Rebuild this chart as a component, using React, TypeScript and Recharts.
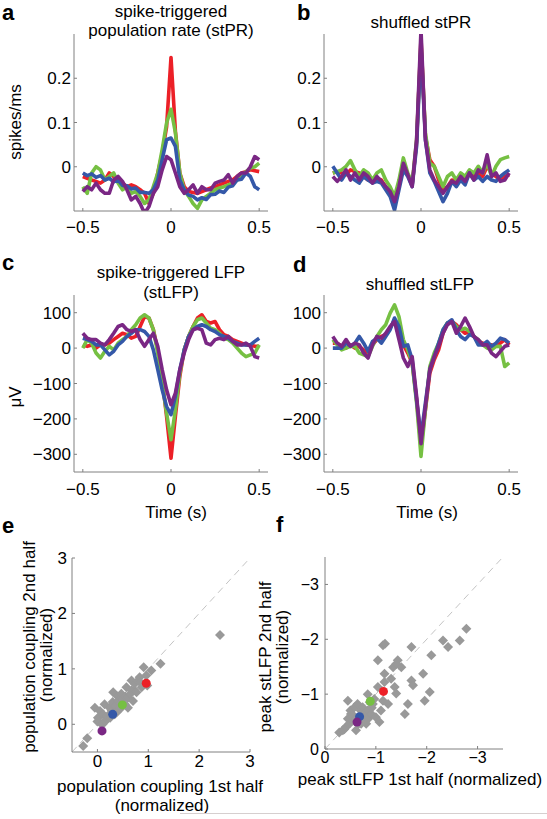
import React from 'react';
import {
  LineChart,
  Line,
  XAxis,
  YAxis,
  ScatterChart,
  Scatter,
  ReferenceLine,
} from 'recharts';

/* ------------------------------------------------------------------ */
/*  Data                                                               */
/* ------------------------------------------------------------------ */
const TIME = [
  -0.5, -0.475, -0.45, -0.425, -0.4, -0.375, -0.35, -0.325, -0.3, -0.275, -0.25,
  -0.225, -0.2, -0.175, -0.15, -0.125, -0.1, -0.075, -0.05, -0.025, 0, 0.025,
  0.05, 0.075, 0.1, 0.125, 0.15, 0.175, 0.2, 0.225, 0.25, 0.275, 0.3, 0.325,
  0.35, 0.375, 0.4, 0.425, 0.45, 0.475, 0.5,
];

/* a: spike-triggered population rate (spikes/ms) */
const A_RED = [-0.022, -0.026, -0.03, -0.033, -0.037, -0.03, -0.014, -0.022, -0.03, -0.037, -0.045, -0.041, -0.045, -0.052, -0.06, -0.083, -0.06, -0.014, 0.03, 0.09, 0.247, 0.08, -0.014, -0.045, -0.056, -0.058, -0.06, -0.056, -0.052, -0.048, -0.045, -0.041, -0.037, -0.033, -0.03, -0.022, -0.014, -0.011, -0.007, -0.009, -0.011];
const A_GREEN = [-0.045, -0.06, -0.014, 0, -0.007, -0.03, -0.022, -0.014, -0.037, -0.052, -0.045, -0.06, -0.056, -0.067, -0.083, -0.075, -0.045, -0.014, 0.039, 0.099, 0.13, 0.077, -0.014, -0.052, -0.067, -0.083, -0.094, -0.075, -0.067, -0.06, -0.052, -0.048, -0.045, -0.041, -0.037, -0.03, -0.022, -0.011, -0.003, 0, 0.008];
const A_BLUE = [-0.014, -0.02, -0.016, -0.024, -0.02, -0.03, -0.026, -0.034, -0.03, -0.042, -0.043, -0.05, -0.048, -0.058, -0.058, -0.06, -0.052, -0.03, 0.016, 0.061, 0.065, 0.046, -0.03, -0.052, -0.064, -0.067, -0.075, -0.07, -0.074, -0.063, -0.062, -0.055, -0.058, -0.046, -0.043, -0.03, -0.028, -0.014, -0.022, -0.045, -0.052];
const A_PURPLE = [-0.056, -0.045, -0.052, -0.037, -0.052, -0.06, -0.06, -0.03, -0.022, -0.033, -0.052, -0.075, -0.067, -0.083, -0.105, -0.09, -0.06, -0.045, -0.007, 0.023, 0.016, -0.014, -0.045, -0.06, -0.052, -0.041, -0.06, -0.045, -0.052, -0.052, -0.037, -0.033, -0.03, -0.018, -0.037, -0.022, -0.014, -0.014, 0, 0.023, 0.016];

/* b: shuffled stPR */
const B_RED = [-0.014, -0.011, -0.014, -0.018, -0.007, -0.011, -0.014, -0.022, -0.03, -0.033, -0.026, -0.03, -0.045, -0.06, -0.075, -0.045, 0.001, -0.018, -0.041, 0.054, 0.29, 0.069, 0.016, 0.001, -0.03, -0.052, -0.045, -0.03, -0.033, -0.026, -0.03, -0.014, -0.022, -0.014, -0.022, 0.001, -0.014, -0.022, -0.03, -0.022, -0.018];
const B_GREEN = [-0.014, -0.011, -0.007, 0.001, 0.014, -0.007, -0.022, -0.007, -0.014, -0.03, -0.014, -0.007, -0.03, -0.045, -0.067, -0.03, 0.02, -0.014, -0.037, 0.061, 0.28, 0.077, 0.008, 0.001, -0.022, -0.045, -0.022, -0.014, -0.03, -0.014, -0.022, -0.007, -0.014, 0.001, -0.014, 0.008, -0.022, 0.001, 0.016, 0.02, 0.023];
const B_BLUE = [0.001, -0.014, -0.03, -0.014, -0.022, -0.03, -0.037, -0.022, -0.03, -0.037, -0.033, -0.037, -0.052, -0.067, -0.098, -0.052, -0.007, -0.022, -0.045, 0.046, 0.27, 0.061, -0.014, -0.033, -0.056, -0.079, -0.06, -0.033, -0.045, -0.03, -0.041, -0.014, -0.03, -0.022, -0.033, -0.022, -0.03, -0.033, -0.022, -0.014, -0.007];
const B_PURPLE = [-0.022, -0.033, -0.022, -0.007, -0.03, -0.014, -0.03, -0.014, -0.022, -0.037, -0.022, -0.033, -0.045, -0.056, -0.079, -0.045, 0.008, -0.018, -0.045, 0.061, 0.31, 0.061, -0.007, -0.03, -0.045, -0.06, -0.045, -0.033, -0.037, -0.022, -0.033, -0.014, -0.03, -0.007, -0.014, 0.027, -0.022, -0.014, -0.033, -0.03, -0.014];

/* c: spike-triggered LFP (uV) */
const C_RED = [9, 5, 9, 0, 9, 9, 14, 24, 33, 42, 38, 28, 33, 61, 89, 85, 52, -5, -89, -193, -311, -193, -80, -5, 33, 61, 85, 94, 75, 71, 75, 52, 38, 33, 24, 19, 14, 9, 9, 5, 5];
const C_GREEN = [0, 24, 14, -14, -28, -9, 5, -5, 14, 24, 33, 52, 66, 85, 94, 85, 52, -14, -99, -184, -259, -174, -71, -5, 33, 61, 80, 85, 71, 56, 52, 42, 28, 24, 14, 0, -14, -24, -19, -14, 9];
const C_BLUE = [28, 24, 19, 9, 9, -5, -19, -9, 9, 19, 33, 42, 52, 52, 47, 33, -5, -61, -118, -165, -188, -136, -61, -5, 33, 52, 61, 66, 61, 52, 47, 38, 33, 28, 19, 14, 9, 9, 9, 19, 28];
const C_PURPLE = [42, 28, 24, 24, 14, 9, 24, 42, 61, 66, 52, 47, 52, 24, 5, 24, 42, 5, -61, -118, -160, -127, -61, -14, 24, 52, 56, 52, 14, 9, 24, 28, 24, 33, 19, 9, 9, 14, 5, -24, -28];

/* d: shuffled stLFP */
const D_RED = [14, 14, 5, 0, 9, 0, 5, -5, -14, 9, 24, 33, 38, 56, 80, 52, 9, -14, -42, -146, -278, -174, -71, -33, -5, 42, 71, 75, 66, 52, 42, 47, 33, 19, 14, 9, 9, 5, 14, 24, 9];
const D_GREEN = [24, 9, -5, 0, 5, 5, -14, -19, -24, 5, 33, 52, 66, 99, 122, 89, 24, -5, -42, -155, -306, -174, -52, -14, 14, 52, 71, 75, 61, 52, 56, 47, 33, 24, 9, 0, -5, 5, 5, -52, -42];
const D_BLUE = [0, 0, 0, 14, 5, 14, 33, 14, -9, 19, 28, 14, 33, 52, 85, 61, 5, 9, -33, -146, -249, -155, -61, -24, 14, 52, 71, 80, 52, 33, 24, 38, 33, 9, 9, 19, 5, 14, 28, 24, 14];
const D_PURPLE = [33, 14, 5, 24, 5, 14, 9, -14, -28, 9, 33, 28, 42, 61, 75, 24, -28, -52, -24, -136, -270, -165, -61, -24, 5, 42, 66, 75, 42, 61, 85, 61, 33, 24, 9, 9, -14, -24, -9, 5, 9];

/* e: population coupling, 1st vs 2nd half (normalized) */
const E_GRAY = [[-0.28, -0.39], [-0.2, -0.25], [-0.05, 0.3], [0.01, 0.12], [0.05, 0.03], [0, 0.05], [0.1, 0], [0.05, 0.24], [0.11, 0.18], [0.15, 0.05], [0.14, 0.36], [0.18, 0.09], [0.2, 0.15], [0.24, 0.3], [0.25, 0.12], [0.28, 0.25], [0.3, 0.4], [0.31, 0.58], [0.34, 0.18], [0.35, 0.33], [0.38, 0.22], [0.4, 0.5], [0.41, 0.42], [0.44, 0.27], [0.45, 0.38], [0.47, 0.55], [0.5, 0.45], [0.54, 0.36], [0.55, 0.5], [0.57, 0.67], [0.6, 0.48], [0.6, 0.3], [0.65, 0.55], [0.67, 0.61], [0.67, 0.79], [0.7, 0.42], [0.72, 0.62], [0.73, 0.73], [0.77, 0.58], [0.8, 0.79], [0.83, 0.85], [0.85, 0.75], [0.87, 0.67], [0.91, 1.03], [0.96, 0.88], [0.98, 0.7], [1.06, 0.97], [1.24, 1.09], [2.41, 1.61]];
const E_RED = [[0.96, 0.74]];
const E_GREEN = [[0.49, 0.35]];
const E_BLUE = [[0.3, 0.18]];
const E_PURPLE = [[0.09, -0.12]];

/* f: peak stLFP, 1st vs 2nd half (normalized) */
const F_GRAY = [[-0.28, -0.3], [-0.35, -0.34], [-0.38, -0.36], [-0.41, -0.4], [-0.45, -0.88], [-0.45, -0.55], [-0.48, -0.46], [-0.5, -0.7], [-0.51, -0.64], [-0.55, -0.52], [-0.55, -0.62], [-0.58, -0.76], [-0.6, -0.55], [-0.61, -0.34], [-0.64, -0.82], [-0.65, -0.45], [-0.68, -0.58], [-0.7, -0.7], [-0.71, -0.46], [-0.74, -0.76], [-0.75, -0.55], [-0.78, -0.64], [-0.81, -0.46], [-0.84, -0.7], [-0.84, -1.0], [-0.85, -0.55], [-0.88, -0.85], [-0.91, -0.64], [-0.92, -0.75], [-0.94, -0.82], [-0.97, -0.91], [-1.0, -0.58], [-1.04, -1.13], [-1.04, -1.62], [-1.07, -0.49], [-1.1, -0.7], [-1.14, -0.88], [-1.14, -1.89], [-1.17, -1.37], [-1.17, -1.22], [-1.18, -1.92], [-1.24, -0.82], [-1.3, -1.28], [-1.34, -1.49], [-1.37, -1.13], [-1.4, -1.55], [-1.4, -1.01], [-1.43, -1.62], [-1.5, -1.49], [-1.57, -0.64], [-1.63, -0.82], [-1.7, -1.86], [-1.7, -1.25], [-1.73, -1.16], [-1.93, -1.37], [-1.96, -0.88], [-2.06, -1.04], [-2.09, -1.71], [-2.32, -1.98], [-2.42, -1.86], [-2.65, -1.98], [-2.78, -2.19]];
const F_RED = [[-1.15, -1.05]];
const F_GREEN = [[-0.89, -0.87]];
const F_BLUE = [[-0.68, -0.59]];
const F_PURPLE = [[-0.63, -0.49]];

const TIME_TICKS = [-0.5, 0, 0.5];
const RATE_TICKS = [0, 0.1, 0.2];
const LFP_TICKS = [-300, -200, -100, 0, 100];
const E_TICKS = [0, 1, 2, 3];
const F_TICKS = [-3, -2, -1, 0];

/* ------------------------------------------------------------------ */
/*  Styling                                                            */
/* ------------------------------------------------------------------ */
const FONT = '"Liberation Sans", Arial, Helvetica, sans-serif';
const AXIS = '#808080';
const RED = '#ec2027';
const GREEN = '#76c043';
const BLUE = '#3458a8';
const PURPLE = '#7a2784';
const GRAY = '#999999';

const fmt = (v: number) => String(v).replace('-', '\u2212');

const rows = (r: number[], g: number[], b: number[], p: number[]) =>
  TIME.map((t, i) => ({ t, red: r[i], green: g[i], blue: b[i], purple: p[i] }));

const pts = (list: number[][]) => list.map(([x, y]) => ({ x, y }));

type Box = { x: number; y: number; w: number; h: number };

const YW = 60;
const MT = 10;
const MR = 12;
const XH = 40;

/* ------------------------------------------------------------------ */
/*  Panels                                                             */
/* ------------------------------------------------------------------ */
function TracePanel({
  box,
  data,
  yDomain,
  yTicks,
  xMargin,
}: {
  box: Box;
  data: ReturnType<typeof rows>;
  yDomain: [number, number];
  yTicks: number[];
  xMargin: number;
}) {
  const tick = { fontSize: 17, fill: '#000', fontFamily: FONT };
  return (
    <div style={{ position: 'absolute', left: box.x - YW, top: box.y - MT }}>
      <LineChart
        width={YW + box.w + MR}
        height={MT + box.h + XH}
        data={data}
        margin={{ top: MT, right: MR, bottom: 0, left: 0 }}
      >
        <XAxis
          type="number"
          dataKey="t"
          domain={[-0.55, 0.55]}
          ticks={TIME_TICKS}
          interval={0}
          allowDataOverflow
          height={XH}
          axisLine={{ stroke: AXIS }}
          tickLine={{ stroke: AXIS }}
          tickSize={-3}
          tickMargin={xMargin}
          tick={tick}
          tickFormatter={fmt}
        />
        <YAxis
          type="number"
          domain={yDomain}
          ticks={yTicks}
          interval={0}
          allowDataOverflow
          width={YW}
          axisLine={{ stroke: AXIS }}
          tickLine={{ stroke: AXIS }}
          tickSize={-3}
          tickMargin={6}
          tick={tick}
          tickFormatter={fmt}
        />
        {(['red', 'green', 'blue', 'purple'] as const).map((k) => (
          <Line
            key={k}
            type="linear"
            dataKey={k}
            stroke={{ red: RED, green: GREEN, blue: BLUE, purple: PURPLE }[k]}
            strokeWidth={3.6}
            strokeLinejoin="round"
            dot={false}
            activeDot={false}
            isAnimationActive={false}
          />
        ))}
      </LineChart>
    </div>
  );
}

const Diamond = (props: any) => {
  const { cx, cy } = props;
  return (
    <polygon
      points={`${cx},${cy - 5} ${cx + 5},${cy} ${cx},${cy + 5} ${cx - 5},${cy}`}
      fill={GRAY}
    />
  );
};

const Dot = (color: string) => (props: any) =>
  <circle cx={props.cx} cy={props.cy} r={4.5} fill={color} />;

function ScatterPanel({
  box,
  domain,
  ticks,
  reversed,
  gray,
  red,
  green,
  blue,
  purple,
  xMargin,
  yMargin,
  fontSize,
}: {
  box: Box;
  domain: [number, number];
  ticks: number[];
  reversed: boolean;
  gray: number[][];
  red: number[][];
  green: number[][];
  blue: number[][];
  purple: number[][];
  xMargin: number;
  yMargin: number;
  fontSize: number;
}) {
  const tick = { fontSize, fill: '#000', fontFamily: FONT };
  const [lo, hi] = reversed ? [0, -3.5] : [-0.5, 3];
  return (
    <div style={{ position: 'absolute', left: box.x - YW, top: box.y - MT }}>
      <ScatterChart
        width={YW + box.w + MR}
        height={MT + box.h + XH}
        margin={{ top: MT, right: MR, bottom: 0, left: 0 }}
      >
        <XAxis
          type="number"
          dataKey="x"
          domain={domain}
          ticks={ticks}
          interval={0}
          reversed={reversed}
          allowDataOverflow
          height={XH}
          axisLine={{ stroke: AXIS }}
          tickLine={{ stroke: AXIS }}
          tickSize={-3}
          tickMargin={xMargin}
          tick={tick}
          tickFormatter={fmt}
        />
        <YAxis
          type="number"
          dataKey="y"
          domain={domain}
          ticks={ticks}
          interval={0}
          reversed={reversed}
          allowDataOverflow
          width={YW}
          axisLine={{ stroke: AXIS }}
          tickLine={{ stroke: AXIS }}
          tickSize={-3}
          tickMargin={yMargin}
          tick={tick}
          tickFormatter={fmt}
        />
        <ReferenceLine
          segment={[
            { x: lo, y: lo },
            { x: hi, y: hi },
          ]}
          stroke="#c4c4c4"
          strokeDasharray="7 5"
        />
        <Scatter data={pts(gray)} shape={Diamond} isAnimationActive={false} />
        <Scatter data={pts(red)} shape={Dot(RED)} isAnimationActive={false} />
        <Scatter data={pts(green)} shape={Dot(GREEN)} isAnimationActive={false} />
        <Scatter data={pts(blue)} shape={Dot(BLUE)} isAnimationActive={false} />
        <Scatter data={pts(purple)} shape={Dot(PURPLE)} isAnimationActive={false} />
      </ScatterChart>
    </div>
  );
}

/* ------------------------------------------------------------------ */
/*  Text overlay                                                       */
/* ------------------------------------------------------------------ */
function T({ x, y, children, size = 17, bold = false, anchor = 'middle', rot = false }: any) {
  return (
    <text
      x={rot ? 0 : x}
      y={rot ? 0 : y}
      transform={rot ? `translate(${x},${y}) rotate(-90)` : undefined}
      fontSize={size}
      fontWeight={bold ? 'bold' : 'normal'}
      textAnchor={anchor}
      fontFamily={FONT}
      fill="#000"
    >
      {children}
    </text>
  );
}

/* ------------------------------------------------------------------ */
/*  Main                                                               */
/* ------------------------------------------------------------------ */
export default function App() {
  return (
    <div
      style={{
        position: 'absolute',
        left: 0,
        top: 0,
        width: 547,
        height: 819,
        background: '#fff',
        fontFamily: FONT,
      }}
    >
      <TracePanel
        box={{ x: 74, y: 34, w: 194, h: 177 }}
        data={rows(A_RED, A_GREEN, A_BLUE, A_PURPLE)}
        yDomain={[-0.1, 0.3]}
        yTicks={RATE_TICKS}
        xMargin={13}
      />
      <TracePanel
        box={{ x: 324, y: 34, w: 194, h: 177 }}
        data={rows(B_RED, B_GREEN, B_BLUE, B_PURPLE)}
        yDomain={[-0.1, 0.3]}
        yTicks={RATE_TICKS}
        xMargin={13}
      />
      <TracePanel
        box={{ x: 74, y: 295, w: 194, h: 177 }}
        data={rows(C_RED, C_GREEN, C_BLUE, C_PURPLE)}
        yDomain={[-350, 150]}
        yTicks={LFP_TICKS}
        xMargin={14}
      />
      <TracePanel
        box={{ x: 324, y: 295, w: 194, h: 177 }}
        data={rows(D_RED, D_GREEN, D_BLUE, D_PURPLE)}
        yDomain={[-350, 150]}
        yTicks={LFP_TICKS}
        xMargin={14}
      />
      <ScatterPanel
        box={{ x: 72, y: 558, w: 178, h: 194 }}
        domain={[-0.5, 3]}
        ticks={E_TICKS}
        reversed={false}
        gray={E_GRAY}
        red={E_RED}
        green={E_GREEN}
        blue={E_BLUE}
        purple={E_PURPLE}
        xMargin={6}
        yMargin={8}
        fontSize={17}
      />
      <ScatterPanel
        box={{ x: 325, y: 557, w: 178, h: 192 }}
        domain={[-3.5, 0]}
        ticks={F_TICKS}
        reversed
        gray={F_GRAY}
        red={F_RED}
        green={F_GREEN}
        blue={F_BLUE}
        purple={F_PURPLE}
        xMargin={6}
        yMargin={9}
        fontSize={16}
      />

      <svg
        width={547}
        height={819}
        style={{ position: 'absolute', left: 0, top: 0, pointerEvents: 'none' }}
      >
        {/* panel letters */}
        <T x={2} y={20} size={22} bold anchor="start">a</T>
        <T x={297} y={20} size={22} bold anchor="start">b</T>
        <T x={2} y={270} size={22} bold anchor="start">c</T>
        <T x={293} y={272} size={22} bold anchor="start">d</T>
        <T x={2} y={533} size={22} bold anchor="start">e</T>
        <T x={276} y={532} size={22} bold anchor="start">f</T>

        {/* titles */}
        <T x={171} y={16.5}>spike-triggered</T>
        <T x={171} y={36}>population rate (stPR)</T>
        <T x={421} y={28}>shuffled stPR</T>
        <T x={171} y={277.5}>spike-triggered LFP</T>
        <T x={171} y={297.5}>(stLFP)</T>
        <T x={420} y={289.5}>shuffled stLFP</T>

        {/* axis labels */}
        <T x={20.5} y={122} rot>spikes/ms</T>
        <T x={20.5} y={397} rot>μV</T>
        <T x={176} y={517.5}>Time (s)</T>
        <T x={427} y={517.5}>Time (s)</T>

        <T x={160} y={792}>population coupling 1st half</T>
        <T x={162} y={810.5}>(normalized)</T>
        <T x={35} y={647} rot>population coupling 2nd half</T>
        <T x={52} y={655} rot>(normalized)</T>

        <T x={420} y={785}>peak stLFP 1st half (normalized)</T>
        <T x={271} y={657} rot>peak stLFP 2nd half</T>
        <T x={288} y={657} rot>(normalized)</T>

        <line x1={180} y1={813.5} x2={547} y2={813.5} stroke="#d6cfcf" strokeWidth={1} />
      </svg>
    </div>
  );
}
